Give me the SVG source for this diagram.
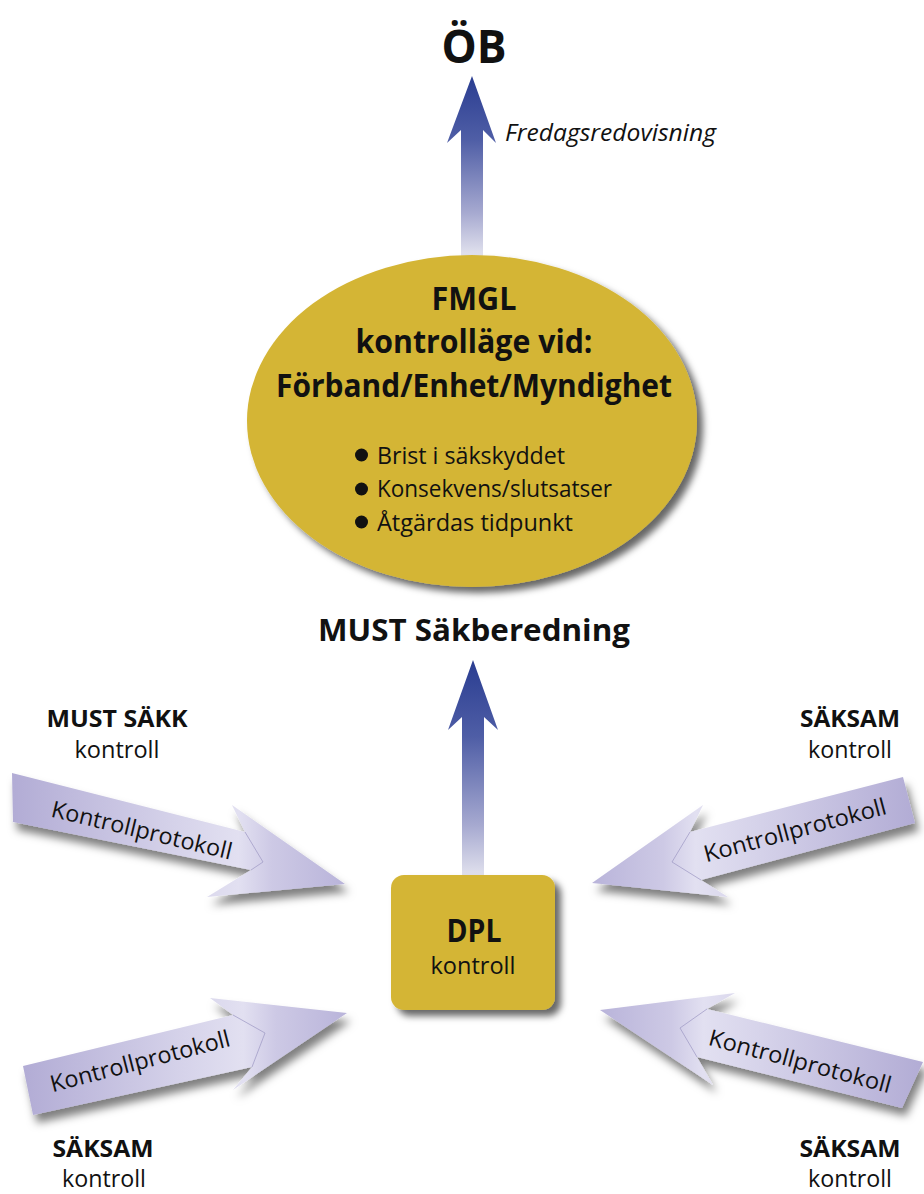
<svg xmlns="http://www.w3.org/2000/svg" width="924" height="1194" viewBox="0 0 924 1194">
<defs>
<linearGradient id="blue" x1="0" y1="0" x2="0" y2="1">
<stop offset="0" stop-color="#2a3d91"/>
<stop offset="0.35" stop-color="#4f5ea6"/>
<stop offset="0.75" stop-color="#a6a9d0"/>
<stop offset="1" stop-color="#e6e6f0"/>
</linearGradient>
<linearGradient id="lavR" x1="0" y1="0" x2="1" y2="0">
<stop offset="0" stop-color="#b2acd5"/>
<stop offset="0.5" stop-color="#d6d3ea"/>
<stop offset="0.68" stop-color="#e2e0f1"/>
<stop offset="0.78" stop-color="#cdc9e5"/>
<stop offset="1" stop-color="#b9b4da"/>
</linearGradient>
<linearGradient id="lavL" x1="1" y1="0" x2="0" y2="0">
<stop offset="0" stop-color="#b2acd5"/>
<stop offset="0.5" stop-color="#d6d3ea"/>
<stop offset="0.68" stop-color="#e2e0f1"/>
<stop offset="0.78" stop-color="#cdc9e5"/>
<stop offset="1" stop-color="#b9b4da"/>
</linearGradient>
<filter id="shadow" x="-20%" y="-20%" width="150%" height="160%">
<feDropShadow dx="4" dy="8" stdDeviation="4" flood-color="#000" flood-opacity="0.5"/>
</filter>
<filter id="shadowN" x="-10%" y="-10%" width="125%" height="125%">
<feDropShadow dx="6" dy="6" stdDeviation="3.5" flood-color="#000" flood-opacity="0.6"/>
</filter>
</defs>
<style>
text { font-family: "Open Sans", "Liberation Sans", sans-serif; fill: #111; }
.b { font-weight: bold; }
.c { text-anchor: middle; }
.lav { stroke: none; filter: url(#shadow); }
.seam { fill: none; stroke: #a39ec8; stroke-width: 0.8; }
.kp { font-size: 23px; text-anchor: middle; }
.gold { fill: #d4b535; filter: url(#shadowN); }
.lbl { font-size: 23px; text-anchor: middle; }
</style>
<rect width="924" height="1194" fill="#ffffff"/>

<g id="connectors">
<polygon id="arrow-fmgl-ob" fill="url(#blue)" points="472,76 496,143 483,130 483,258 461,258 461,130 447,143"/>
<polygon id="arrow-dpl-fmgl" fill="url(#blue)" points="473,660 498,730 484,717 484,880 462,880 462,717 448,730"/>
<g id="arrow-tl">
<polygon class="lav" fill="url(#lavR)" points="12,773 245,832 232,805 345,884 207,897 251,870 13,822"/>
<polyline class="seam" points="245,832 263,862 251,870"/>
<text class="kp" x="140" y="838" transform="rotate(13.5 140 838)" textLength="185" lengthAdjust="spacingAndGlyphs">Kontrollprotokoll</text>
</g>
<g id="arrow-tr">
<polygon class="lav" fill="url(#lavL)" points="903,777 690,832 703,805 592,883 728,897 701,880 915,823"/>
<polyline class="seam" points="690,832 672,862 701,880"/>
<text class="kp" x="797" y="838" transform="rotate(-15 797 838)" textLength="188" lengthAdjust="spacingAndGlyphs">Kontrollprotokoll</text>
</g>
<g id="arrow-bl">
<polygon class="lav" fill="url(#lavR)" points="23,1066 233,1015 210,998 347,1013 233,1090 252,1067 33,1115"/>
<polyline class="seam" points="233,1015 265,1033 252,1067"/>
<text class="kp" x="142" y="1069" transform="rotate(-14.5 142 1069)" textLength="185" lengthAdjust="spacingAndGlyphs">Kontrollprotokoll</text>
</g>
<g id="arrow-br">
<polygon class="lav" fill="url(#lavL)" points="923,1062 707,1009 735,993 600,1010 713,1085 697,1057 902,1108"/>
<polyline class="seam" points="707,1009 680,1028 697,1057"/>
<text class="kp" x="798" y="1069" transform="rotate(15 798 1069)" textLength="188" lengthAdjust="spacingAndGlyphs">Kontrollprotokoll</text>
</g>
<text id="label-fredag" x="505" y="141" font-size="23" font-style="italic" textLength="211" lengthAdjust="spacingAndGlyphs">Fredagsredovisning</text>
</g>

<g id="node-ob">
<text class="b c" x="474" y="63" font-size="46" textLength="65" lengthAdjust="spacingAndGlyphs">ÖB</text>
</g>

<g id="node-fmgl">
<ellipse class="gold" cx="472" cy="421" rx="225" ry="166"/>
<text class="b c" x="474" y="310" font-size="32" textLength="85" lengthAdjust="spacingAndGlyphs">FMGL</text>
<text class="b c" x="474" y="353" font-size="32" textLength="237" lengthAdjust="spacingAndGlyphs">kontrolläge vid:</text>
<text class="b c" x="474" y="397" font-size="32" textLength="396" lengthAdjust="spacingAndGlyphs">Förband/Enhet/Myndighet</text>
<circle cx="361.5" cy="455" r="6.5" fill="#111"/>
<circle cx="361.5" cy="489" r="6.5" fill="#111"/>
<circle cx="361.5" cy="522" r="6.5" fill="#111"/>
<text x="377" y="464" font-size="24" textLength="188" lengthAdjust="spacingAndGlyphs">Brist i säkskyddet</text>
<text x="377" y="497" font-size="24" textLength="235" lengthAdjust="spacingAndGlyphs">Konsekvens/slutsatser</text>
<text x="377" y="531" font-size="24" textLength="196" lengthAdjust="spacingAndGlyphs">Åtgärdas tidpunkt</text>
</g>

<g id="node-must-sakberedning">
<text class="b c" x="474" y="641" font-size="30" textLength="312" lengthAdjust="spacingAndGlyphs">MUST Säkberedning</text>
</g>

<g id="node-dpl">
<rect class="gold" x="391" y="875" width="164" height="135" rx="13"/>
<text class="b c" x="474" y="942" font-size="32" textLength="55" lengthAdjust="spacingAndGlyphs">DPL</text>
<text class="c" x="473" y="974" font-size="24" textLength="85" lengthAdjust="spacingAndGlyphs">kontroll</text>
</g>

<g id="node-must-sakk">
<text class="lbl b" x="117" y="727" textLength="141" lengthAdjust="spacingAndGlyphs">MUST SÄKK</text>
<text class="lbl" x="117" y="758" textLength="85" lengthAdjust="spacingAndGlyphs">kontroll</text>
</g>
<g id="node-saksam-tr">
<text class="lbl b" x="850" y="727" textLength="100" lengthAdjust="spacingAndGlyphs">SÄKSAM</text>
<text class="lbl" x="850" y="758" textLength="84" lengthAdjust="spacingAndGlyphs">kontroll</text>
</g>
<g id="node-saksam-bl">
<text class="lbl b" x="103" y="1157" textLength="101" lengthAdjust="spacingAndGlyphs">SÄKSAM</text>
<text class="lbl" x="104" y="1187" textLength="84" lengthAdjust="spacingAndGlyphs">kontroll</text>
</g>
<g id="node-saksam-br">
<text class="lbl b" x="850" y="1157" textLength="101" lengthAdjust="spacingAndGlyphs">SÄKSAM</text>
<text class="lbl" x="850" y="1187" textLength="84" lengthAdjust="spacingAndGlyphs">kontroll</text>
</g>
</svg>
